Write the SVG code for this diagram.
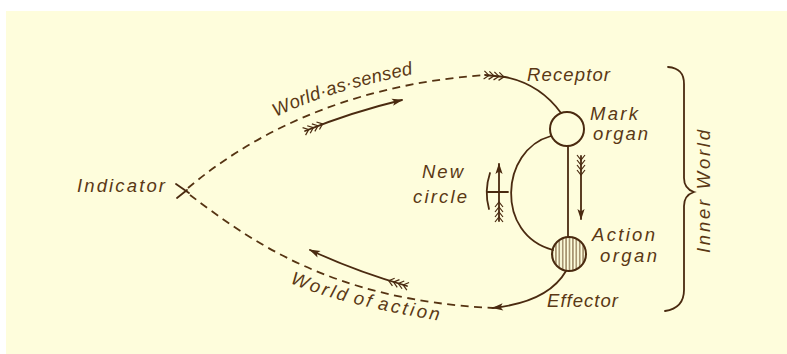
<svg xmlns="http://www.w3.org/2000/svg" width="787" height="354" viewBox="0 0 787 354">
<style>
.ln{fill:none;stroke:#4a2a10;stroke-width:1.8;stroke-linecap:round}
.dash{fill:none;stroke:#553312;stroke-width:1.8;stroke-dasharray:8 5.5}
.lab{font-family:"Liberation Sans",Arial,sans-serif;font-style:italic;font-size:18.5px;fill:#5a3814}
.org{fill:#fefddc;stroke:#4a2a10;stroke-width:2}
</style>
<defs>
<marker id="head" markerUnits="userSpaceOnUse" orient="auto" overflow="visible" refX="0" refY="0" markerWidth="1" markerHeight="1">
<path d="M1,0 L-10,-3.6 L-7.5,0 L-10,3.6 Z" fill="#4a2a10"/>
</marker>
<marker id="fletch" markerUnits="userSpaceOnUse" orient="auto" overflow="visible" refX="0" refY="0" markerWidth="1" markerHeight="1">
<path d="M-1,-4 L4,0 L-1,4 M4,-4 L9,0 L4,4 M9,-4 L14,0 L9,4 M14,-4 L19,0 L14,4" fill="none" stroke="#4a2a10" stroke-width="1.2"/>
</marker>
<pattern id="hatch" patternUnits="userSpaceOnUse" width="3.4" height="10">
<line x1="1.7" y1="0" x2="1.7" y2="10" stroke="#5a3814" stroke-width="0.9"/>
</pattern>
<path id="pSensed" d="M276,117 Q325,92 418,73"/>
<path id="pAction" d="M290,283 Q340,305 447,322"/>
</defs>
<rect width="787" height="354" fill="#ffffff"/>
<rect x="6" y="11" width="781" height="343" fill="#fefddc"/>

<g id="connectors">
<path class="ln" d="M176,184 L189,193 M177,198 L187,190"/>
<path class="dash" d="M188,188 C245,140 340,85 486,75"/>
<path class="dash" d="M190,195 C250,240 330,300 493,308"/>
<path class="ln" d="M485,75 L505,77 Q540,84 561,113" marker-start="url(#fletch)"/>
<path class="ln" d="M305,131 Q352,112 402,100" marker-start="url(#fletch)" marker-end="url(#head)"/>
<path class="ln" d="M407,286 Q355,271 310,250" marker-start="url(#fletch)" marker-end="url(#head)"/>
<path class="ln" d="M568,146 L568,237"/>
<path class="ln" d="M581,156 L581,219" marker-start="url(#fletch)" marker-end="url(#head)"/>
<path class="ln" d="M551,136 C500,150 495,235 553,250"/>
<path class="ln" d="M490,173 Q484,191 489,209 M488,192 L508,192"/>
<path class="ln" d="M499,221 L499,164" marker-start="url(#fletch)" marker-end="url(#head)"/>
<path class="ln" d="M566,271 Q548,302 493,308" marker-end="url(#head)"/>
</g>

<g id="indicator">
<text class="lab" x="77" y="192" textLength="88" lengthAdjust="spacing">Indicator</text>
</g>
<g id="world-as-sensed">
<text class="lab" letter-spacing="0.3"><textPath href="#pSensed">World·as·sensed</textPath></text>
</g>
<g id="world-of-action">
<text class="lab" letter-spacing="2.6" word-spacing="-3"><textPath href="#pAction">World of action</textPath></text>
</g>
<g id="receptor">
<text class="lab" x="527" y="81" textLength="83" lengthAdjust="spacing">Receptor</text>
</g>
<g id="mark-organ">
<circle class="org" cx="567" cy="129" r="17"/>
<text class="lab" x="590" y="120" textLength="48" lengthAdjust="spacing">Mark</text>
<text class="lab" x="593" y="140" textLength="55" lengthAdjust="spacing">organ</text>
</g>
<g id="new-circle">
<text class="lab" x="422" y="178" textLength="41" lengthAdjust="spacing">New</text>
<text class="lab" x="413" y="203" textLength="54" lengthAdjust="spacing">circle</text>
</g>
<g id="action-organ">
<circle cx="569" cy="254" r="17" fill="url(#hatch)" stroke="#4a2a10" stroke-width="2"/>
<text class="lab" x="592" y="241" textLength="63" lengthAdjust="spacing">Action</text>
<text class="lab" x="600" y="262" textLength="57" lengthAdjust="spacing">organ</text>
</g>
<g id="effector">
<text class="lab" x="547" y="307" textLength="71" lengthAdjust="spacing">Effector</text>
</g>
<g id="inner-world">
<path class="ln" d="M668,67 C680,68 684,74 684,84 L684,178 C684,186 688,190 694,192 C688,194 684,198 684,206 L684,290 C684,302 678,309 665,311"/>
<text class="lab" transform="translate(710,191) rotate(-90)" x="-62" y="0" textLength="123" lengthAdjust="spacing">Inner World</text>
</g>
</svg>
